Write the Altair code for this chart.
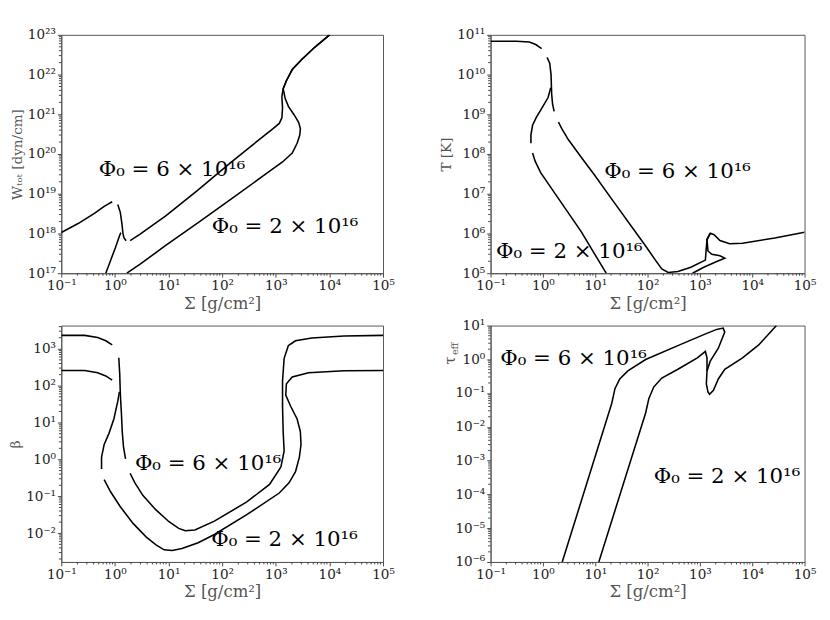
import altair as alt
import pandas as pd

FONT = "DejaVu Serif"
SIG_DOMAIN = [0.1, 1e5]
X_EXPS = [-1, 0, 1, 2, 3, 4, 5]

# ---------------- Panel 1: W_tot ----------------
W_a_sigma = [0.1, 0.206, 0.414, 0.63, 0.89]
W_a_val = [1.06e18, 1.78e18, 3.2e18, 4.8e18, 6.3e18]
W_b_sigma = [1.13, 1.26, 1.35, 1.41, 1.47, 1.62]
W_b_val = [5.4e18, 3.4e18, 1.78e18, 1.02e18, 7.8e17, 6.6e17]
W_c_sigma = [0.675, 0.83, 1.02, 1.21, 1.29]
W_c_val = [1.0e17, 2.1e17, 4.4e17, 8.5e17, 1.05e18]
W_hi_sigma = [1.92, 2.91, 4.43, 8.87, 35.7, 144, 439, 879, 1161, 1300, 1336, 1300, 1374, 1578, 2028, 3080, 5380, 10070]
W_hi_val = [6.6e17, 9.5e17, 1.42e18, 2.78e18, 1.26e19, 6.1e19, 2.04e20, 4.3e20, 5.9e20, 8.2e20, 1.44e21, 2.76e21, 4.4e21, 7.0e21, 1.34e22, 2.43e22, 4.93e22, 1.0e23]
W_lo_sigma = [1.67, 2.91, 8.87, 35.7, 144, 580, 1336, 2028, 2500, 2795, 2875, 2682, 2175, 1718, 1494, 1413, 1374, 1578, 2028, 3080, 5380, 10070]
W_lo_val = [1.0e17, 1.67e17, 5.0e17, 1.88e18, 7.2e18, 2.8e19, 6.3e19, 1.06e20, 1.86e20, 2.97e20, 4.3e20, 6.2e20, 9.9e20, 1.58e21, 2.52e21, 3.65e21, 4.4e21, 7.0e21, 1.34e22, 2.43e22, 4.93e22, 1.0e23]

# ---------------- Panel 2: T ----------------
T_a_sigma = [0.1, 0.312, 0.55, 0.73, 0.944]
T_a_val = [6.9e10, 6.9e10, 6.6e10, 5.7e10, 4.5e10]
T_b_sigma = [1.20, 1.35, 1.43, 1.47, 1.53, 1.64]
T_b_val = [2.71e10, 1.93e10, 9.96e9, 3.19e9, 1.81e9, 1.19e9]
T_c_sigma = [0.59, 0.59, 0.634, 0.753, 0.973, 1.256, 1.41]
T_c_val = [1.87e8, 3.0e8, 5.3e8, 8.5e8, 1.5e9, 2.64e9, 4.67e9]
T_hi_sigma = [1.98, 2.28, 3.03, 5.35, 9.45, 22.2, 91.8, 141, 187, 248, 380, 671, 1273, 1310, 1367, 1577, 1871, 2415, 3700, 6530, 27000, 1e5]
T_hi_val = [6.4e8, 4.4e8, 2.35e8, 8.45e7, 3.1e7, 6.44e6, 4.83e5, 2.14e5, 1.28e5, 1.04e5, 1.1e5, 1.41e5, 2.14e5, 3.63e5, 7.05e5, 1.01e6, 9.35e5, 6.65e5, 5.5e5, 5.7e5, 7.7e5, 1.07e6]
T_lo_sigma = [0.634, 0.71, 0.906, 1.72, 5.35, 16.2]
T_lo_val = [1.06e8, 6.6e7, 3.4e7, 9.95e6, 1.13e6, 1.0e5]
T_lo2_sigma = [721, 1186, 2094, 2985, 2415, 1690, 1426, 1367, 1577]
T_lo2_val = [1.0e5, 1.41e5, 1.98e5, 2.4e5, 2.74e5, 3.0e5, 3.63e5, 7.05e5, 1.01e6]

# ---------------- Panel 3: beta ----------------
B_a_sigma = [0.1, 0.273, 0.477, 0.675, 0.89]
B_a_val = [2307, 2307, 2010, 1645, 1270]
B_b_sigma = [0.1, 0.273, 0.477, 0.675, 0.89]
B_b_val = [258, 258, 224, 184, 142]
B_c_sigma = [1.18, 1.23, 1.26, 1.32, 1.37, 1.45, 1.58]
B_c_val = [573, 203, 61.5, 18.6, 5.64, 2.08, 1.04]
B_d_sigma = [0.563, 0.563, 0.63, 0.775, 0.955, 1.13, 1.21]
B_d_val = [0.548, 1.15, 2.54, 5.1, 12.5, 37.4, 68]
B_hi_sigma = [1.92, 2.36, 3.34, 5.83, 10.2, 15.5, 20.5, 31.0, 71.6, 288, 765, 1247, 1432, 1374, 1336, 1336, 1432, 1718, 2333, 4680, 18800, 1e5]
B_hi_val = [0.423, 0.233, 0.105, 0.0428, 0.0205, 0.0135, 0.0117, 0.0122, 0.0213, 0.0705, 0.211, 0.63, 1.71, 5.64, 27.7, 136, 550, 1220, 1646, 1968, 2218, 2307]
B_lo_sigma = [0.63, 0.83, 1.26, 2.20, 3.85, 5.84, 8.27, 11.7, 17.8, 35.7, 71.6, 288, 1161, 1766, 2333, 2754, 2955, 2875, 2500, 1892, 1535, 1578, 2028, 4074, 18800, 1e5]
B_lo_val = [0.284, 0.133, 0.0522, 0.0182, 0.00787, 0.00481, 0.00355, 0.00341, 0.00385, 0.0055, 0.00923, 0.0318, 0.123, 0.233, 0.468, 1.15, 2.54, 5.64, 12.5, 27.7, 55.7, 112, 173, 225, 253, 258]

# ---------------- Panel 4: tau_eff ----------------
TAU_A_sigma = [2.34, 20.7, 23.8, 29.4, 42.0, 91.8, 380, 1186, 2094, 2783, 2985, 2249, 1577, 1367, 1328, 1426, 1531, 1815, 2249, 2985, 6530, 13280, 29000]
TAU_A_val = [1e-6, 0.05, 0.135, 0.262, 0.455, 0.985, 2.55, 5.4, 7.7, 8.4, 6.4, 2.13, 0.88, 0.455, 0.188, 0.108, 0.0927, 0.121, 0.262, 0.508, 1.10, 2.66, 10.0]
TAU_B_sigma = [11.7, 91.8, 106, 131, 187, 380, 893, 1273, 1367, 1367]
TAU_B_val = [1e-6, 0.0258, 0.0697, 0.151, 0.28, 0.508, 1.1, 1.71, 1.1, 0.455]

LABEL_6 = "Φ₀ = 6 × 10¹⁶"
LABEL_2 = "Φ₀ = 2 × 10¹⁶"

SUP = {"-": "⁻", "0": "⁰", "1": "¹", "2": "²", "3": "³", "4": "⁴",
       "5": "⁵", "6": "⁶", "7": "⁷", "8": "⁸", "9": "⁹"}


def sup_label(e):
    return "10" + "".join(SUP[c] for c in str(e))


def label_expr(exps):
    parts = [f"abs(log(datum.value)/LN10-({e}))<0.01 ? '{sup_label(e)}'" for e in exps]
    return " : ".join(parts) + " : ''"


def minor_vals(lo_exp, hi_exp, lo, hi):
    out = []
    for k in range(lo_exp, hi_exp + 1):
        for m in range(2, 10):
            v = m * 10.0 ** k
            if lo < v < hi:
                out.append(v)
    return out


def make_panel(segs, ydom, yexps, ytitle, labels, w, h, ytitle_pad=3):
    rows = []
    for name, sx, sy in segs:
        for i, (a, b) in enumerate(zip(sx, sy)):
            rows.append({"seg": name, "ord": i, "sigma": a, "val": b})
    df = pd.DataFrame(rows)
    xs = alt.Scale(type="log", domain=SIG_DOMAIN, nice=False)
    ys = alt.Scale(type="log", domain=ydom, nice=False)
    xaxis = alt.Axis(values=[10.0 ** e for e in X_EXPS], labelExpr=label_expr(X_EXPS),
                     title="Σ [g/cm²]", labelFlush=False, labelOverlap=False,
                     titlePadding=3, titleFontSize=17)
    yaxis = alt.Axis(values=[10.0 ** e for e in yexps], labelExpr=label_expr(yexps),
                     labelFlush=False, labelOverlap=False, titlePadding=ytitle_pad,
                     title=ytitle)
    X = lambda f: alt.X(f, scale=xs, axis=xaxis, title="Σ [g/cm²]")
    Y = lambda f: alt.Y(f, scale=ys, axis=yaxis, title=ytitle)
    lines = alt.Chart(df).mark_line(color="black", strokeWidth=1.6, clip=True).encode(
        x=X("sigma:Q"), y=Y("val:Q"), detail="seg:N", order="ord:Q",
    )
    mx = pd.DataFrame({"v": minor_vals(-1, 4, SIG_DOMAIN[0], SIG_DOMAIN[1])})
    my = pd.DataFrame({"v": minor_vals(-8, 25, ydom[0], ydom[1])})
    minor_x = alt.Chart(mx).mark_rule(color="#444", strokeWidth=1).encode(
        x=X("v:Q"), y=alt.value(h), y2=alt.value(h + 2.5))
    minor_y = alt.Chart(my).mark_rule(color="#444", strokeWidth=1).encode(
        y=Y("v:Q"), x=alt.value(0), x2=alt.value(-2.5))
    ldf = pd.DataFrame(labels, columns=["sigma", "val", "text"])
    texts = alt.Chart(ldf).mark_text(align="left", baseline="middle", font=FONT,
                                     fontSize=22, color="black").encode(
        x=X("sigma:Q"), y=Y("val:Q"), text="text:N",
    )
    return [lines, minor_x, minor_y, texts]


p1 = make_panel(
    [("a", W_a_sigma, W_a_val), ("b", W_b_sigma, W_b_val), ("c", W_c_sigma, W_c_val),
     ("hi", W_hi_sigma, W_hi_val), ("lo", W_lo_sigma, W_lo_val)],
    [1e17, 1e23], [17, 18, 19, 20, 21, 22, 23], "Wₜₒₜ [dyn/cm]",
    [(0.50, 4.1e19, LABEL_6), (64, 1.56e18, LABEL_2)], 332, 246)
p2 = make_panel(
    [("a", T_a_sigma, T_a_val), ("b", T_b_sigma, T_b_val), ("c", T_c_sigma, T_c_val),
     ("hi", T_hi_sigma, T_hi_val), ("lo", T_lo_sigma, T_lo_val), ("lo2", T_lo2_sigma, T_lo2_val)],
    [1e5, 1e11], [5, 6, 7, 8, 9, 10, 11], "T [K]",
    [(14.9, 3.75e7, LABEL_6), (0.127, 3.63e5, LABEL_2)], 324, 246)
p3 = make_panel(
    [("a", B_a_sigma, B_a_val), ("b", B_b_sigma, B_b_val), ("c", B_c_sigma, B_c_val),
     ("d", B_d_sigma, B_d_val), ("hi", B_hi_sigma, B_hi_val), ("lo", B_lo_sigma, B_lo_val)],
    [0.00166, 4266], [-2, -1, 0, 1, 2, 3], "β",
    [(2.36, 0.80, LABEL_6), (62.4, 0.0067, LABEL_2)], 332, 244)
p4 = make_panel(
    [("A", TAU_A_sigma, TAU_A_val), ("B", TAU_B_sigma, TAU_B_val)],
    [1e-6, 10], [-6, -5, -4, -3, -2, -1, 0, 1], "",
    [(0.153, 1.05, LABEL_6), (131, 3.5e-4, LABEL_2)], 324, 244)

tau_title = alt.Chart(pd.DataFrame({"t": ["τ"]})).mark_text(
    angle=270, font=FONT, fontSize=15, color="#555").encode(
    x=alt.value(-42), y=alt.value(36), text="t:N")
eff_title = alt.Chart(pd.DataFrame({"t": ["eff"]})).mark_text(
    angle=270, font=FONT, fontSize=10, color="#555").encode(
    x=alt.value(-37), y=alt.value(24), text="t:N")

c1 = alt.layer(*p1).properties(width=332, height=246)
c2 = alt.layer(*p2).properties(width=324, height=246)
c3 = alt.layer(*p3).properties(width=332, height=244)
c4 = alt.layer(*p4, tau_title, eff_title).properties(width=324, height=244)

chart = alt.concat(c1, c2, c3, c4, columns=2, spacing={"row": 6, "column": 45}).configure_view(
    stroke="#555", strokeWidth=1
).configure_axis(
    labelFont=FONT, titleFont=FONT, labelFontSize=14, titleFontSize=14,
    titleFontWeight="normal", labelColor="#222", titleColor="#555",
    tickColor="#444", domainColor="#555", tickSize=4, labelPadding=2, grid=False
).properties(padding={"left": 0, "top": 10, "right": 5, "bottom": 5})

chart.save("out.html", embed_options={"renderer": "svg", "actions": False})
